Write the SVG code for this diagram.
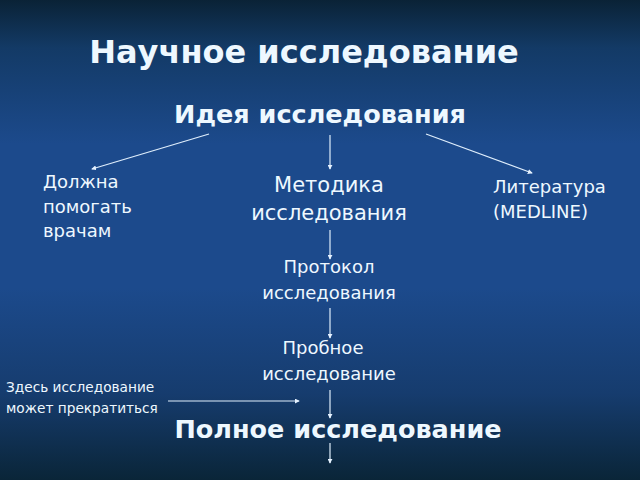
<svg xmlns="http://www.w3.org/2000/svg" width="640" height="480" viewBox="0 0 640 480">
<defs>
<linearGradient id="bg" x1="0" y1="0" x2="0" y2="1">
<stop offset="0" stop-color="#0a2236"/>
<stop offset="0.1" stop-color="#133a66"/>
<stop offset="0.3" stop-color="#1c4a8c"/>
<stop offset="0.6" stop-color="#1c4a8c"/>
<stop offset="0.82" stop-color="#163c6e"/>
<stop offset="1" stop-color="#0a2538"/>
</linearGradient>
<marker id="ah" viewBox="0 0 6 6" refX="5" refY="3" markerWidth="5" markerHeight="5" orient="auto" markerUnits="userSpaceOnUse">
<path d="M0,0 L6,3 L0,6 z" fill="#e6f2ff"/>
</marker>
<style>
.t{font-family:"DejaVu Sans",Verdana,sans-serif;fill:#eef8ff}
.b{font-weight:bold}
.c{stroke:#dfeefc;stroke-width:1.2;fill:none;marker-end:url(#ah)}
</style>
</defs>
<rect width="640" height="480" fill="url(#bg)"/>
<g id="title"><text class="t b" x="304" y="63" font-size="32" text-anchor="middle" fill="#e6fbff">Научное исследование</text></g>
<g id="idea"><text class="t b" x="320" y="123" font-size="25.5" text-anchor="middle">Идея исследования</text></g>
<g id="doctors"><text class="t" x="43" y="188" font-size="18"><tspan x="43">Должна</tspan><tspan x="43" dy="25">помогать</tspan><tspan x="43" dy="24">врачам</tspan></text></g>
<g id="method"><text class="t" x="329" y="192" font-size="21" text-anchor="middle"><tspan x="329">Методика</tspan><tspan x="329" dy="28">исследования</tspan></text></g>
<g id="literature"><text class="t" x="493" y="193" font-size="18"><tspan x="493">Литература</tspan><tspan x="493" dy="25">(MEDLINE)</tspan></text></g>
<g id="protocol"><text class="t" x="329" y="273" font-size="18" text-anchor="middle"><tspan x="329">Протокол</tspan><tspan x="329" dy="26">исследования</tspan></text></g>
<g id="pilot"><text class="t" x="329" y="354" font-size="18" text-anchor="middle"><tspan x="323">Пробное</tspan><tspan x="329" dy="26">исследование</tspan></text></g>
<g id="stop"><text class="t" x="6" y="392" font-size="13.7"><tspan x="6">Здесь исследование</tspan><tspan x="6" dy="21">может прекратиться</tspan></text></g>
<g id="full"><text class="t b" x="338" y="438" font-size="25.5" text-anchor="middle">Полное исследование</text></g>
<g id="connectors">
<line class="c" x1="209" y1="134" x2="92" y2="169"/>
<line class="c" x1="330" y1="135" x2="330" y2="169"/>
<line class="c" x1="426" y1="134" x2="532" y2="173"/>
<line class="c" x1="330" y1="230" x2="330" y2="259"/>
<line class="c" x1="330" y1="308" x2="330" y2="338"/>
<line class="c" x1="330" y1="390" x2="330" y2="418"/>
<line class="c" x1="168" y1="401" x2="299" y2="401"/>
<line class="c" x1="330" y1="443" x2="330" y2="463"/>
</g>
</svg>
